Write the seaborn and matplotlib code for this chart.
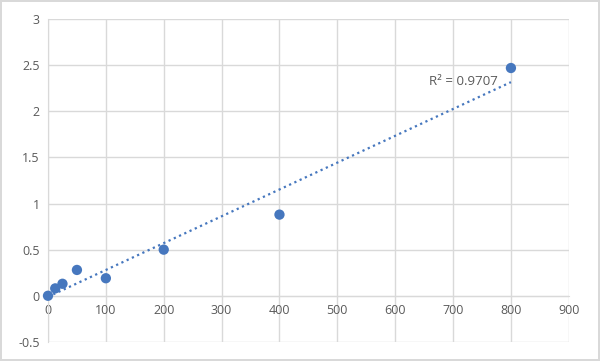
import numpy as np
import pandas as pd
import seaborn as sns
import matplotlib.pyplot as plt

# concentrations and readings
conc = [0, 12.5, 25, 50, 100, 200, 400, 800]
od = [0.0, 0.08, 0.13, 0.28, 0.19, 0.50, 0.88, 2.47]
r2_label = "R² = 0.9707"

df = pd.DataFrame({"conc": conc, "od": od})

sns.set_style("white")
plt.rcParams["font.family"] = ["Open Sans", "DejaVu Sans"]

blue = "#4677BE"
grid = "#d9d9d9"
txt = "#595959"

fig = plt.figure(figsize=(6, 3.61), dpi=100)
fig.patch.set_edgecolor(grid)
fig.patch.set_linewidth(1.5)
ax = fig.add_axes([0.08, 0.053, 0.868, 0.894])

sns.regplot(data=df, x="conc", y="od", ax=ax, ci=None, truncate=True,
            scatter_kws={"s": 55, "color": blue, "edgecolors": "none", "alpha": 1,
                         "zorder": 3, "clip_on": False},
            line_kws={"color": blue, "lw": 1.6, "ls": (0, (1, 1.6)), "zorder": 2})

ax.set_xlim(0, 900)
ax.set_ylim(-0.5, 3)
ax.set_xticks(np.arange(0, 901, 100))
ax.set_yticks(np.arange(-0.5, 3.01, 0.5))
ax.set_yticklabels(["-0.5", "0", "0.5", "1", "1.5", "2", "2.5", "3"])
ax.grid(True, color=grid, lw=1)
ax.set_axisbelow(True)
for s in ["top", "right"]:
    ax.spines[s].set_visible(False)
ax.spines["left"].set_color(grid)
ax.spines["bottom"].set_color(grid)
ax.spines["bottom"].set_position(("data", 0))
ax.tick_params(length=0, labelsize=9, colors=txt, pad=6)
ax.set_xlabel("")
ax.set_ylabel("")

ax.text(778, 2.32, r2_label, ha="right", va="center", fontsize=9.5, color=txt)

fig.savefig("out.png", dpi=100, edgecolor=fig.get_edgecolor())
